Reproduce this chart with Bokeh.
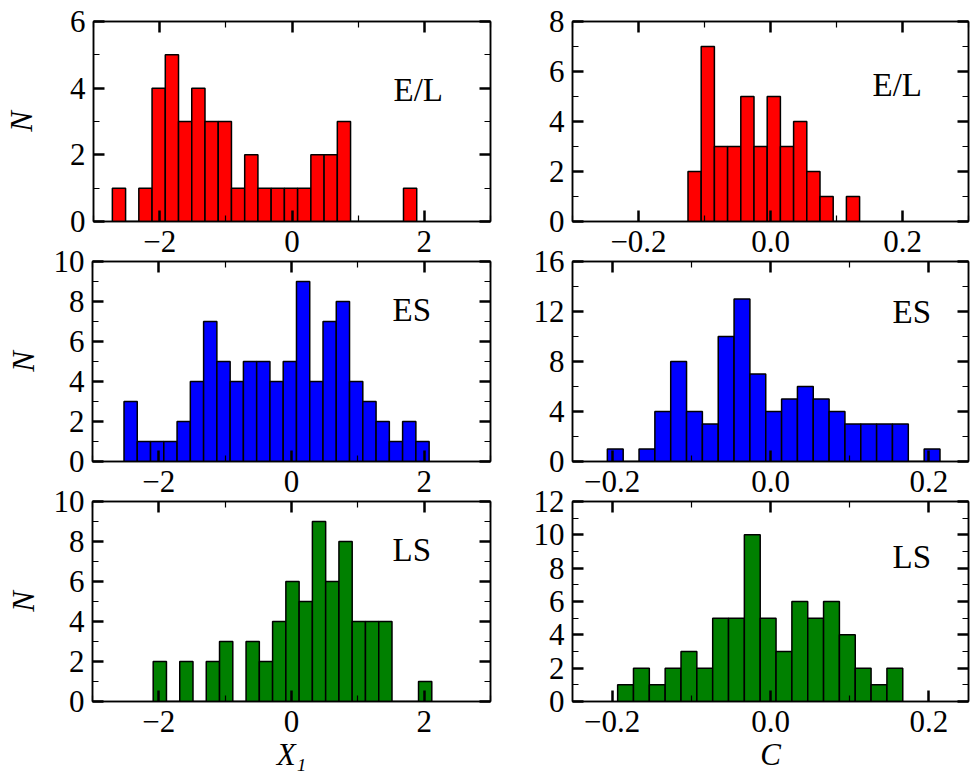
import math
from bokeh.plotting import figure
from bokeh.models import Range1d, FixedTicker, LinearAxis, Label, ColumnDataSource
from bokeh.layouts import row, column
from bokeh.embed import file_html
from bokeh.resources import INLINE

# ---------------- data ----------------
# X1 histograms (bin start, bin width, counts)
el_x1_start, el_x1_width = -2.715, 0.2
el_x1_counts = [1, 0, 1, 4, 5, 3, 4, 3, 3, 1, 2, 1, 1, 1, 1, 2, 2, 3, 0, 0, 0, 0, 1]

es_x1_start, es_x1_width = -2.525, 0.2
es_x1_counts = [3, 1, 1, 1, 2, 4, 7, 5, 4, 5, 5, 4, 5, 9, 4, 7, 8, 4, 3, 2, 1, 2, 1]

ls_x1_start, ls_x1_width = -2.085, 0.2
ls_x1_counts = [2, 0, 2, 0, 2, 3, 0, 3, 2, 4, 6, 5, 9, 6, 8, 4, 4, 4, 0, 0, 1]

# C histograms
el_c_start, el_c_width = -0.125, 0.02
el_c_counts = [2, 7, 3, 3, 5, 3, 5, 3, 4, 2, 1, 0, 1]

es_c_start, es_c_width = -0.206, 0.02
es_c_counts = [1, 0, 1, 4, 8, 4, 3, 10, 13, 7, 4, 5, 6, 5, 4, 3, 3, 3, 3, 0, 1]

ls_c_start, ls_c_width = -0.193, 0.02
ls_c_counts = [1, 2, 1, 2, 3, 2, 5, 5, 10, 5, 3, 6, 5, 6, 4, 2, 1, 2]

# axes ranges / ticks
x1_range = (-3, 3)
c_range_top = (-0.3, 0.3)
c_range = (-0.25, 0.25)
x1_ticks = [-2, 0, 2]
x1_tick_labels = ["\u22122", "0", "2"]
x1_minor = [-3, -1, 1, 3]
c_ticks = [-0.2, 0.0, 0.2]
c_tick_labels = ["\u22120.2", "0.0", "0.2"]
c_minor = [-0.3, -0.1, 0.1, 0.3]

y_max = {"el_x1": 6, "el_c": 8, "es_x1": 10, "es_c": 16, "ls_x1": 10, "ls_c": 12}
y_step = {"el_x1": 2, "el_c": 2, "es_x1": 2, "es_c": 4, "ls_x1": 2, "ls_c": 2}
y_minor_step = {"el_x1": 1, "el_c": 1, "es_x1": 1, "es_c": 2, "ls_x1": 1, "ls_c": 1}

group_names = ["E/L", "ES", "LS"]
colors = ["#ff0000", "#0000ff", "#008000"]
x_titles = ["X\u2081", "C"]
y_title = "N"

FONT = "Liberation Serif"
TICK_SIZE = "31px"
NAME_SIZE = "33px"
TITLE_SIZE = "31px"


def style_axis(ax, ticks, labels, minor, show_labels, standoff):
    ax.ticker = FixedTicker(ticks=ticks, minor_ticks=minor)
    ax.axis_line_color = "black"
    ax.axis_line_width = 1.5
    ax.major_tick_in = 11
    ax.major_tick_out = 0
    ax.minor_tick_in = 6
    ax.minor_tick_out = 0
    ax.major_tick_line_color = "black"
    ax.minor_tick_line_color = "black"
    ax.major_tick_line_width = 2.5
    ax.minor_tick_line_width = 1.2
    ax.major_label_text_font = FONT
    if show_labels:
        ax.major_label_overrides = dict(zip(ticks, labels))
        ax.major_label_text_font_size = TICK_SIZE
        ax.major_label_text_color = "black"
        ax.major_label_standoff = standoff
    else:
        ax.major_label_text_font_size = "1px"
        ax.major_label_text_color = None
        ax.major_label_standoff = 0


def style_title(ax, text, standoff):
    ax.axis_label = text
    ax.axis_label_text_font = FONT
    ax.axis_label_text_font_style = "italic"
    ax.axis_label_text_font_size = TITLE_SIZE
    ax.axis_label_text_color = "black"
    ax.axis_label_standoff = standoff


def make_panel(counts, start, width, xr, key, xticks, xlabels, xminor, color,
               name, name_pos, W, H, lb, rb, tb, bb):
    ymax = y_max[key]
    yticks = list(range(0, ymax + 1, y_step[key]))
    ylabels = [str(t) for t in yticks]
    yminor = list(range(0, ymax + 1, y_minor_step[key]))
    p = figure(width=W, height=H, x_range=Range1d(*xr), y_range=Range1d(0, ymax),
               output_backend="svg", toolbar_location=None,
               min_border_left=lb, min_border_right=rb,
               min_border_top=tb, min_border_bottom=bb)
    p.xgrid.visible = False
    p.ygrid.visible = False
    p.background_fill_color = "white"
    p.border_fill_color = None
    p.outline_line_color = "black"
    p.outline_line_width = 1.5

    lefts = [start + i * width for i in range(len(counts))]
    rights = [l + width for l in lefts]
    src = ColumnDataSource(dict(left=lefts, right=rights, top=counts))
    p.quad(left="left", right="right", bottom=0, top="top", source=src,
           fill_color=color, line_color="black", line_width=1.5)

    bottom_ax = p.below[0]
    left_ax = p.left[0]
    style_axis(bottom_ax, xticks, xlabels, xminor, True, 9)
    style_axis(left_ax, yticks, ylabels, yminor, True, 8)
    top_ax = LinearAxis()
    style_axis(top_ax, xticks, xlabels, xminor, False, 0)
    p.add_layout(top_ax, "above")
    right_ax = LinearAxis()
    style_axis(right_ax, yticks, ylabels, yminor, False, 0)
    p.add_layout(right_ax, "right")

    p.add_layout(Label(x=name_pos[0], y=name_pos[1], x_units="screen", y_units="screen",
                       text=name, text_font=FONT, text_font_size=NAME_SIZE,
                       text_color="black", text_align="left", text_baseline="alphabetic"))
    return p, bottom_ax, left_ax


WL, LBL, RBL = 508, 92, 18
WR, LBR, RBR = 464, 64, 4
rows_geom = [(269, 21, 48), (266, 18, 48), (296, 18, 78)]
row_margins = [0, -26, -26]

x1_data = [(el_x1_counts, el_x1_start, el_x1_width, "el_x1"),
           (es_x1_counts, es_x1_start, es_x1_width, "es_x1"),
           (ls_x1_counts, ls_x1_start, ls_x1_width, "ls_x1")]
c_data = [(el_c_counts, el_c_start, el_c_width, "el_c"),
          (es_c_counts, es_c_start, es_c_width, "es_c"),
          (ls_c_counts, ls_c_start, ls_c_width, "ls_c")]
left_name_pos = [(300, 132), (300, 152), (300, 152)]
right_name_pos = [(300, 137), (320, 150), (320, 145)]
n_standoff = [28, 10, 10]

rows = []
for i in range(3):
    H, tb, bb = rows_geom[i]
    cnt, st, wd, key = x1_data[i]
    pl, pl_x, pl_y = make_panel(cnt, st, wd, x1_range, key, x1_ticks, x1_tick_labels, x1_minor,
                                colors[i], group_names[i], left_name_pos[i], WL, H, LBL, RBL, tb, bb)
    style_title(pl_y, y_title, n_standoff[i])

    cnt, st, wd, key = c_data[i]
    cr = c_range_top if i == 0 else c_range
    pr, pr_x, pr_y = make_panel(cnt, st, wd, cr, key, c_ticks, c_tick_labels, c_minor,
                                colors[i], group_names[i], right_name_pos[i], WR, H, LBR, RBR, tb, bb)
    if i == 2:
        style_title(pl_x, x_titles[0], 2)
        style_title(pr_x, x_titles[1], 2)
    r = row(pl, pr)
    if row_margins[i]:
        r.margin = (row_margins[i], 0, 0, 0)
    rows.append(r)

layout = column(*rows)
open("out.html", "w").write(file_html(layout, INLINE))
